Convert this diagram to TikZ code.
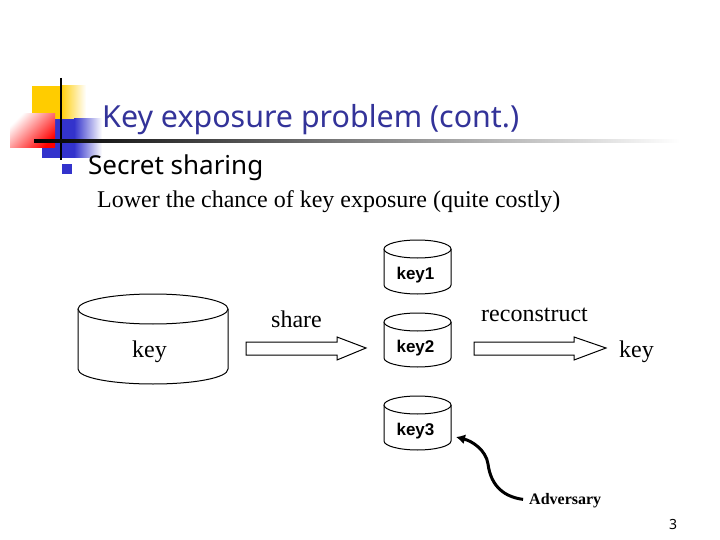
\documentclass[tikz,border=0pt]{standalone}
\usepackage{fontspec}
\setmainfont{Liberation Serif}
\newfontfamily\titlefont{Noto Sans}
\newfontfamily\diskfont{Liberation Sans}
\usetikzlibrary{arrows.meta}
\definecolor{titleblue}{RGB}{51,51,153}
\definecolor{logoyellow}{RGB}{255,204,0}
\definecolor{logoblue}{RGB}{51,51,204}
\begin{document}
\begin{tikzpicture}[x=1pt,y=-1pt]
\tikzset{
    title/.style={anchor=base west, inner sep=0, text=titleblue, font=\titlefont\fontsize{30.4}{30}\selectfont},
    heading/.style={anchor=base west, inner sep=0, font=\titlefont\fontsize{26}{26}\selectfont},
    body/.style={anchor=base west, inner sep=0, font=\fontsize{24}{24}\selectfont},
    tag/.style={anchor=base, inner sep=0, font=\diskfont\bfseries\fontsize{17}{17}\selectfont},
    disk/.style={draw=black, line width=1pt, fill=white},
    blockarrow/.style={draw=black, line width=1pt, fill=white},
    grab/.style={line width=3pt, -{Latex[length=9pt,width=10pt]}, shorten <=6pt}}
\useasboundingbox (0,0) rectangle (720,540);

% logo
\fill[logoyellow] (32,86) rectangle (60,146);
\shade[left color=logoyellow, right color=white] (60,86) rectangle (86,146);
\fill[logoblue] (42,119) rectangle (74,158);
\shade[left color=logoblue, right color=white] (74,119) rectangle (102,158);
\shade[left color=white, right color=red, shading angle=45] (10,114) rectangle (55,148);
\draw[line width=2.4pt] (61,78)--(61,160);
\shade[left color=black, right color=white] (34,140) rectangle (680,142.5);
\fill[logoblue] (62,164) rectangle (72,174);

% text
\node[title] (ttl) at (102,128) {Key exposure problem (cont.)};
\node[heading] (sec) at (88,175) {Secret sharing};
\node[body] (low) at (97,207.5) {Lower the chance of key exposure (quite costly)};

% big disk
\def\xl{78}
\def\xr{228}
\def\xm{153}
\draw[disk] (\xl,309)--(\xl,369) .. controls (\xl,378) and (\xm-40,384) .. (\xm,384)
    .. controls (\xm+40,384) and (\xr,378) .. (\xr,369)--(\xr,309);
\draw[disk] (\xm,309) ellipse (75 and 15);

% small disks, x 384..451
\def\xl{384}
\def\xr{451}
\def\xm{417.5}
\foreach \rim/\name in {249/1,322/2,405/3}{
    \draw[disk] (\xl,\rim)--(\xl,\rim+36) .. controls (\xl,\rim+41) and (\xm-18,\rim+45) .. (\xm,\rim+45)
        .. controls (\xm+18,\rim+45) and (\xr,\rim+41) .. (\xr,\rim+36)--(\xr,\rim);
    \draw[disk] (\xm,\rim) ellipse (33.5 and 9);
    \node[tag] (key\name) at (\xm-2,\rim+30) {key\name};
}

% arrows
\draw[blockarrow] (246,342)--(337,342)--(337,337)--(366,348)--(337,360)--(337,355)--(246,355)--cycle;
\draw[blockarrow] (474,342)--(574,342)--(574,337)--(606,348)--(574,360)--(574,355)--(474,355)--cycle;

% labels
\node[body] (keyl) at (132,357) {key};
\node[body] (shr) at (271,327) {share};
\node[body] (rec) at (481,321) {reconstruct};
\node[body] (keyr) at (619,357) {key};
\node[anchor=base west, inner sep=0, font=\bfseries\fontsize{16}{16}\selectfont] (adv) at (529,504) {Adversary};
\node[anchor=base, inner sep=0, font=\titlefont\fontsize{14}{14}\selectfont] (pg) at (673,529) {3};

\coordinate (hit) at (456,437);
\draw[grab] (adv.west) .. controls (505,497) and (491,487) .. (488,464) .. controls (486,450) and (472,441) .. (hit);
\end{tikzpicture}
\end{document}
